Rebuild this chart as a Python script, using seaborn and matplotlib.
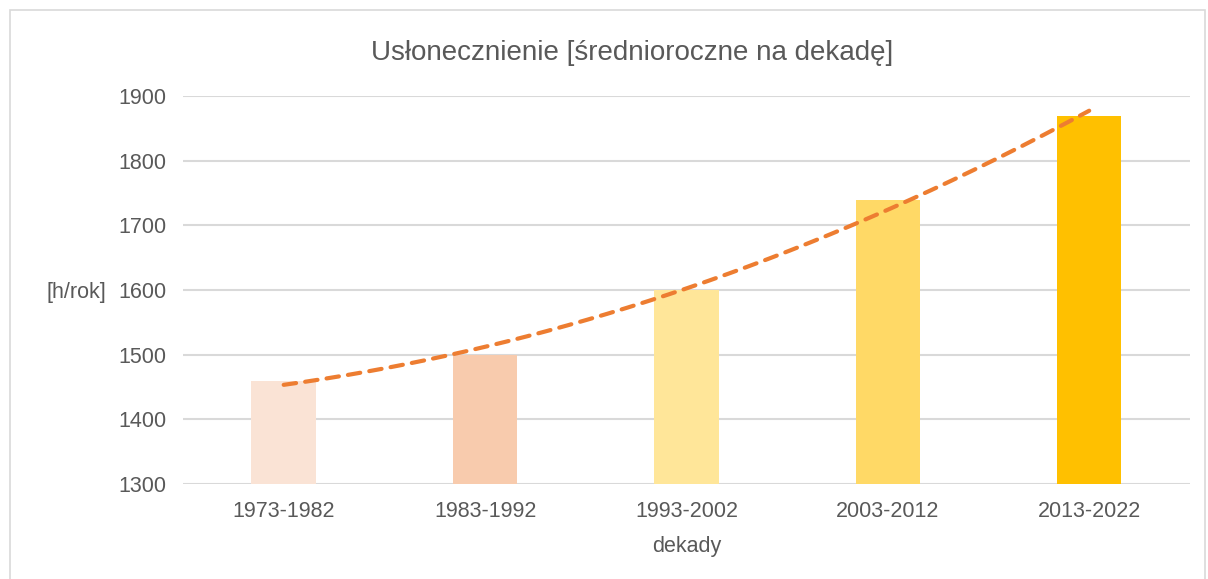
import numpy as np
import pandas as pd
import matplotlib
matplotlib.use("Agg")
import matplotlib.pyplot as plt
from matplotlib.patches import Rectangle
import seaborn as sns

# data
decades = ['1973-1982', '1983-1992', '1993-2002', '2003-2012', '2013-2022']
sunshine = [1460, 1500, 1600, 1740, 1870]
bar_colors = ['#FAE3D5', '#F8CBAD', '#FFE699', '#FFD966', '#FFC000']

df = pd.DataFrame({'dekady': decades, 'h': sunshine})

sns.set_style("white")
plt.rcParams['font.family'] = ['Liberation Sans', 'DejaVu Sans']
text_col = '#595959'

fig = plt.figure(figsize=(12.08, 5.79), dpi=100)
ax = fig.add_axes([0.1515, 0.164, 0.8335, 0.670])

sns.barplot(data=df, x='dekady', y='h', hue='dekady', palette=bar_colors,
            legend=False, width=0.32, saturation=1, linewidth=0, ax=ax, zorder=3)

# Excel-style polynomial (order 2) trendline
xs = np.arange(len(sunshine))
coef = np.polyfit(xs, sunshine, 2)
xt = np.linspace(0, len(sunshine) - 1, 200)
ax.plot(xt, np.polyval(coef, xt), color='#ED7D31', lw=3, ls=(0, (3, 2.2)),
        dash_capstyle='round', zorder=4)

ax.set_ylim(1300, 1900)
ax.set_xlim(-0.5, 4.5)
ax.set_yticks(np.arange(1300, 1901, 100))
ax.yaxis.grid(True, color='#D9D9D9', lw=1.5, zorder=0)
ax.set_axisbelow(True)
for s in ax.spines.values():
    s.set_visible(False)
ax.tick_params(axis='both', length=0, labelsize=15.5, labelcolor=text_col)
ax.tick_params(axis='y', pad=12)
ax.tick_params(axis='x', pad=12)

ax.set_xlabel('dekady', fontsize=15.5, color=text_col, labelpad=10)
ax.set_ylabel('')
fig.text(47 / 1208, 1 - 293 / 579, '[h/rok]', fontsize=15.5, color=text_col,
         ha='left', va='center')
fig.text(632 / 1208, 1 - 53 / 579,
         'Usłonecznienie [średnioroczne na dekadę]',
         fontsize=20, color=text_col, ha='center', va='center')

# chart frame
fig.patches.append(Rectangle((10 / 1208, -0.05), 1195 / 1208, 1.05 - 10 / 579,
                             transform=fig.transFigure, fill=False,
                             edgecolor='#D9D9D9', lw=1.2))

fig.savefig('out.png', dpi=100)
